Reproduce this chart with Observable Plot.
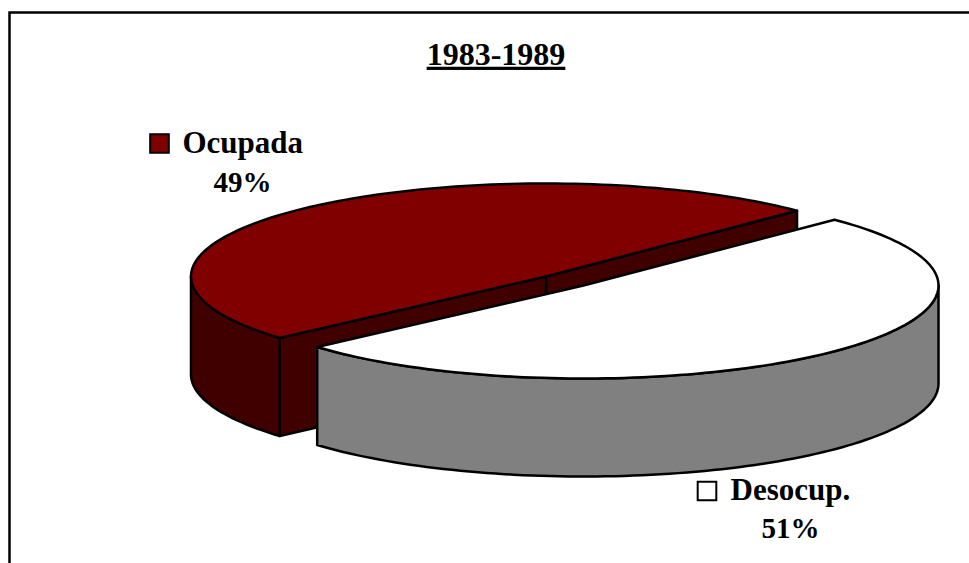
<!DOCTYPE html>
<html>
<head>
<meta charset="utf-8">
<script src="https://cdn.jsdelivr.net/npm/d3@7"></script>
<script src="https://cdn.jsdelivr.net/npm/@observablehq/plot@0.6"></script>
<style>
html,body{margin:0;padding:0;background:#fff;overflow:hidden}
svg{display:block}
</style>
</head>
<body>
<div id="chart"></div>
<script>
// Data
const categories = ["Ocupada", "Desocup."];
const shares = [49, 51];
const shareLabels = ["49%", "51%"];
const topColors = ["#800000", "#ffffff"];
const sideColors = ["#400000", "#808080"];
const chartTitle = "1983-1989";

// Pie geometry (pixel-valued scales)
const rx = 355, ry = 93, depth = 98;
const startAngle = 45;                         // degrees, counter-clockwise on screen
const centers = [[545.5, 276], [583, 285]];    // second slice is exploded
const rad = Math.PI / 180;

const sweep = shares.map(s => s / d3.sum(shares) * 360);
const ranges = [[startAngle, startAngle + sweep[0]],
                [startAngle + sweep[0], startAngle + 360]];

const point = (c, t, dz = 0) => ({
  x: c[0] + rx * Math.cos(t * rad),
  y: c[1] - ry * Math.sin(t * rad) + dz
});
const arc = (c, a, b, dz = 0) => {
  const n = Math.max(2, Math.ceil(Math.abs(b - a) / 1.5));
  return d3.range(n + 1).map(i => point(c, a + (b - a) * i / n, dz));
};
const down = (p) => ({x: p.x, y: p.y + depth});
const centerPt = c => ({x: c[0], y: c[1]});

// Top surfaces
const topFace = i => {
  const c = centers[i], [a, b] = ranges[i];
  return [centerPt(c), ...arc(c, a, b), centerPt(c)];
};
// Outer wall between two angles
const wall = (i, a, b) => {
  const c = centers[i];
  return [...arc(c, a, b), ...arc(c, b, a, depth)];
};
// Flat cut face from the centre to the rim at one angle
const cut = (i, t) => {
  const c = centers[i], p = point(c, t), o = centerPt(c);
  return [o, p, down(p), down(o)];
};

const [a0, b0] = ranges[0], [a1] = ranges[1];
const shapes = [
  {pts: cut(0, a0), fill: sideColors[0]},
  {pts: cut(0, b0), fill: sideColors[0]},
  {pts: wall(0, 180, b0), fill: sideColors[0]},
  {pts: topFace(0), fill: topColors[0]},
  {pts: wall(1, a1, 360), fill: sideColors[1]},
  {pts: topFace(1), fill: topColors[1]}
];
const poly = shapes.map(s => Plot.line([...s.pts, s.pts[0]], {
  x: "x", y: "y", fill: s.fill, stroke: "#000", strokeWidth: 2.5,
  strokeLinejoin: "round", curve: "linear"
}));

// Labels and legend keys
const labelFont = {fontFamily: "'Liberation Serif', serif", fontWeight: "bold", fill: "#000"};
const legendRows = [
  {name: categories[0], share: shareLabels[0], key: topColors[0], kx: 159, ky: 143, nx: 182, ny: 143, sx: 242, sy: 182},
  {name: categories[1], share: shareLabels[1], key: topColors[1], kx: 706.5, ky: 490.5, nx: 730, ny: 490, sx: 790, sy: 528}
];

const plot = Plot.plot({
  width: 969, height: 563,
  margin: 0,
  x: {domain: [0, 969], range: [0, 969], axis: null},
  y: {domain: [0, 563], range: [0, 563], axis: null},
  marks: [
    Plot.frame({stroke: "#000", strokeWidth: 2.5, insetLeft: 9, insetTop: 12, insetRight: -4, insetBottom: -4}),
    ...poly,
    Plot.text([chartTitle], {
      x: () => 495.5, y: () => 54, text: d => d, fontSize: 32, ...labelFont,
      render(index, scales, values, dimensions, context, next) {
        const g = next(index, scales, values, dimensions, context);
        d3.select(g).selectAll("text")
          .style("text-decoration", "underline")
          .style("text-decoration-thickness", "2px");
        return g;
      }
    }),
    Plot.dot(legendRows, {
      x: "kx", y: "ky", symbol: "square", r: 10.5, fill: "key", stroke: "#000", strokeWidth: 2
    }),
    Plot.text(legendRows, {
      x: "nx", y: "ny", text: "name", textAnchor: "start", fontSize: 31, ...labelFont
    }),
    Plot.text(legendRows, {
      x: "sx", y: "sy", text: "share", fontSize: 29, ...labelFont
    })
  ]
});
document.getElementById("chart").appendChild(plot);
</script>
</body>
</html>
